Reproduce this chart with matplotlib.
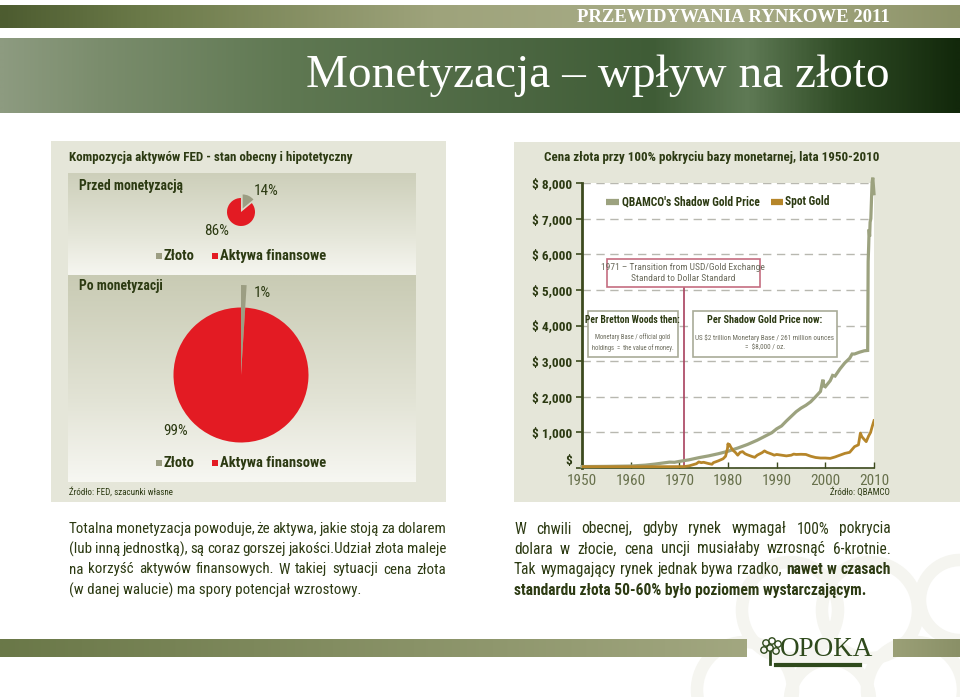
import numpy as np
import matplotlib
matplotlib.use('Agg')
import matplotlib.pyplot as plt
import matplotlib.font_manager as fm
from matplotlib.patches import Rectangle, Circle
from matplotlib.colors import LinearSegmentedColormap

# ---------------- data ----------------
pie_labels = ['Złoto', 'Aktywa finansowe']
pie_before = [14, 86]
pie_after = [1, 99]

years_shadow = [1950, 1955, 1960, 1963, 1965, 1968, 1969, 1970, 1972, 1974, 1976, 1978,
                1980, 1982, 1984, 1986, 1987, 1988, 1989, 1990, 1991, 1992, 1993, 1994,
                1995, 1996, 1997, 1998, 1999, 1999.5, 1999.7, 2000, 2001, 2001.5, 2002,
                2003, 2004, 2005, 2005.5, 2006, 2007, 2008, 2008.7, 2008.8, 2008.9,
                2009.0, 2009.1, 2009.2, 2009.35, 2009.6, 2009.75, 2010]
shadow_price = [40, 45, 55, 80, 110, 165, 160, 185, 230, 290, 340, 400,
                470, 560, 660, 780, 850, 920, 990, 1100, 1180, 1320, 1450, 1580,
                1680, 1760, 1860, 2000, 2150, 2480, 2300, 2280, 2450, 2600, 2580,
                2780, 2950, 3080, 3200, 3200, 3250, 3290, 3300, 5800, 6200,
                6700, 6500, 6900, 7000, 8000, 8150, 7700]

years_spot = [1950, 1968, 1971, 1972, 1973, 1973.5, 1974, 1974.5, 1975, 1976, 1976.7,
              1977, 1978, 1979, 1979.5, 1979.9, 1980.0, 1980.1, 1980.3, 1980.6, 1981,
              1981.5, 1982, 1982.5, 1983, 1983.5, 1984, 1985, 1985.5, 1986, 1987, 1987.5,
              1988, 1989, 1989.5, 1990, 1991, 1992, 1993, 1993.5, 1994, 1995, 1996, 1997,
              1998, 1999, 2000, 2001, 2002, 2003, 2004, 2005, 2006, 2006.8, 2007.2,
              2007.5, 2008.0, 2008.4, 2008.9, 2009.3, 2009.6, 2010]
spot_price = [35, 38, 40, 60, 100, 120, 170, 150, 160, 125, 105,
              150, 200, 260, 330, 550, 680, 620, 660, 580, 500,
              440, 360, 440, 460, 400, 370, 320, 300, 360, 430, 480,
              440, 390, 360, 380, 360, 340, 360, 390, 380, 385, 380, 330,
              295, 280, 280, 270, 310, 360, 410, 440, 600, 650, 980,
              880, 800, 740, 900, 1000, 1150, 1330]

y_ticks = [0, 1000, 2000, 3000, 4000, 5000, 6000, 7000, 8000]
y_tick_labels = ['$', '$ 1,000', '$ 2,000', '$ 3,000', '$ 4,000', '$ 5,000',
                 '$ 6,000', '$ 7,000', '$ 8,000']
x_ticks = [1950, 1960, 1970, 1980, 1990, 2000, 2010]
series_names = ["QBAMCO's Shadow Gold Price", 'Spot Gold']
transition_year = 1971

left_para = ["Totalna monetyzacja powoduje, że aktywa, jakie stoją za dolarem",
             "(lub inną jednostką), są coraz gorszej jakości.Udział złota maleje",
             "na korzyść aktywów finansowych. W takiej sytuacji cena złota",
             "(w danej walucie) ma spory potencjał wzrostowy."]
right_para = ["W chwili obecnej, gdyby rynek wymagał 100% pokrycia",
              "dolara w złocie, cena uncji musiałaby wzrosnąć 6-krotnie.",
              "Tak wymagający rynek jednak bywa rzadko, **nawet w czasach**",
              "**standardu złota 50-60% było poziomem wystarczającym.**"]

# ---------------- style ----------------
def pick(names, default='DejaVu Sans'):
    for n in names:
        try:
            fm.findfont(fm.FontProperties(family=n), fallback_to_default=False)
            return n
        except Exception:
            pass
    return default

NARROW = pick(['Liberation Sans Narrow', 'Roboto Condensed', 'DejaVu Sans Condensed',
               'Open Sans Condensed'], 'DejaVu Sans')
SERIF = pick(['Liberation Serif', 'DejaVu Serif'], 'DejaVu Serif')

DARK = '#2c3a12'
BEIGE = '#e5e6d9'
RED = '#e31b23'
GOLDGRAY = '#9c9e83'
SHADOW_C = '#9ca27f'
SPOT_C = '#b6862a'
GRAYTXT = '#6b6b5c'

W, H = 960, 697
fig = plt.figure(figsize=(9.6, 6.97), dpi=100)
fig.patch.set_facecolor('white')
bg = fig.add_axes([0, 0, 1, 1])
bg.axis('off')


def hgrad(x0, x1, y0, y1, stops, z=0):
    cmap = LinearSegmentedColormap.from_list('g', stops)
    arr = np.linspace(0, 1, 600).reshape(1, -1)
    bg.imshow(arr, cmap=cmap, extent=(x0, x1, y1, y0), origin='upper',
              aspect='auto', zorder=z, interpolation='bilinear')


def vgrad(x0, x1, y0, y1, stops, z=0):
    cmap = LinearSegmentedColormap.from_list('g', stops)
    arr = np.linspace(0, 1, 300).reshape(-1, 1)
    bg.imshow(arr, cmap=cmap, extent=(x0, x1, y1, y0), origin='upper',
              aspect='auto', zorder=z, interpolation='bilinear')


# decorative faint circles (watermark)
for (cx, cy, r) in [(790, 610, 48), (870, 610, 48), (745, 690, 48), (915, 690, 48),
                    (830, 700, 40), (960, 600, 40)]:
    bg.add_patch(Circle((cx, cy), r, fill=False, ec='#f5f5f0', lw=9, zorder=0.5))

# header bands
hgrad(0, W, 5, 28, [(0, '#4d5c30'), (0.15, '#6b7a49'), (0.45, '#9ea37b'),
                    (0.75, '#aaae89'), (1, '#8d9368')], z=1)
bg.text(890, 17.5, 'PRZEWIDYWANIA RYNKOWE 2011', family=SERIF, fontsize=13.5,
        color='white', ha='right', va='center', weight='bold', zorder=3)
hgrad(0, W, 38, 113, [(0, '#8d9b80'), (0.1, '#7b8d6d'), (0.3, '#5f7852'),
                      (0.52, '#4d6843'), (0.68, '#3f5c36'), (0.78, '#5f7a55'),
                      (0.88, '#2f4b25'), (1, '#12280b')], z=1)
bg.text(890, 76, 'Monetyzacja – wpływ na złoto', family=SERIF, fontsize=34,
        color='white', ha='right', va='center', zorder=3)

# bottom bands + logo
hgrad(0, 747, 639, 657, [(0, '#6a7848'), (1, '#a2a780')], z=1)
hgrad(893, W, 639, 657, [(0, '#9ba077'), (1, '#8a9067')], z=1)
bg.text(780, 650, 'OPOKA', family=SERIF, fontsize=19.5, color='#2f4a1c',
        ha='left', va='center', zorder=3)
bg.plot([776, 860], [665, 665], color='#2f4a1c', lw=3, zorder=3)
for (cx, cy) in [(766, 643), (772, 641), (778, 644), (764, 650), (770, 648), (776, 651)]:
    bg.add_patch(Circle((cx, cy), 3.2, fill=False, ec='#2f4a1c', lw=1, zorder=3))
bg.plot([770, 770], [652, 664], color='#2f4a1c', lw=2, zorder=3)

# panels
bg.add_patch(Rectangle((51, 141), 395, 361, fc=BEIGE, ec='none', zorder=1))
bg.add_patch(Rectangle((514, 142), W - 514, 360, fc=BEIGE, ec='none', zorder=1))
vgrad(68, 416, 173, 275, [(0, '#cdcfba'), (0.6, '#e4e5d8'), (1, '#f6f6f0')], z=2)
vgrad(68, 416, 275, 482, [(0, '#c9cbb4'), (0.6, '#e2e3d5'), (1, '#f7f7f2')], z=2)

# left panel texts
bg.text(69, 158, 'Kompozycja aktywów FED - stan obecny i hipotetyczny', family=NARROW,
        weight='bold', fontsize=9.4, color=DARK, va='center', zorder=3)
bg.text(79, 186, 'Przed monetyzacją', family=NARROW, weight='bold', fontsize=9.8,
        color=DARK, va='center', zorder=3)
bg.text(79, 286, 'Po monetyzacji', family=NARROW, weight='bold', fontsize=9.8,
        color=DARK, va='center', zorder=3)
bg.text(254, 191, f'{pie_before[0]}%', family=NARROW, fontsize=11, color=DARK,
        va='center', zorder=3)
bg.text(204, 231, f'{pie_before[1]}%', family=NARROW, fontsize=11, color=DARK,
        va='center', zorder=3)
bg.text(254, 293, f'{pie_after[0]}%', family=NARROW, fontsize=11, color=DARK,
        va='center', zorder=3)
bg.text(163, 431, f'{pie_after[1]}%', family=NARROW, fontsize=11, color=DARK,
        va='center', zorder=3)
for ly in (256, 463):
    bg.add_patch(Rectangle((156, ly - 3), 6, 6, fc=GOLDGRAY, ec='none', zorder=3))
    bg.text(164, ly, pie_labels[0], family=NARROW, weight='bold', fontsize=10.5,
            color=DARK, va='center', zorder=3)
    bg.add_patch(Rectangle((212, ly - 3), 6, 6, fc=RED, ec='none', zorder=3))
    bg.text(220, ly, pie_labels[1], family=NARROW, weight='bold', fontsize=10.5,
            color=DARK, va='center', zorder=3)
bg.text(69, 492, 'Źródło: FED, szacunki własne', family=NARROW, fontsize=6.5,
        color=DARK, va='center', zorder=3)

# right panel texts
bg.text(544, 158, 'Cena złota przy 100% pokryciu bazy monetarnej, lata 1950-2010',
        family=NARROW, weight='bold', fontsize=9.4, color=DARK, va='center', zorder=3)
bg.text(890, 492, 'Źródło: QBAMCO', family=NARROW, fontsize=6.5, color=DARK,
        ha='right', va='center', zorder=3)

bg.set_xlim(0, W)
bg.set_ylim(H, 0)


# ---------------- pies ----------------
def pie_axes(cx, cy, half):
    a = fig.add_axes([(cx - half) / W, 1 - (cy + half) / H, 2 * half / W, 2 * half / H])
    return a


pa = pie_axes(241, 212, 30)
wedges, _ = pa.pie(pie_before, colors=[GOLDGRAY, RED], startangle=90, counterclock=False,
                   radius=14 / 30, explode=[0.13, 0])
pa.set_xlim(-1, 1); pa.set_ylim(-1, 1); pa.axis('off')

pb = pie_axes(241, 375, 100)
wedges2, _ = pb.pie(pie_after, colors=[GOLDGRAY, RED], startangle=90, counterclock=False,
                    radius=0.675)
wedges2[0].set_radius(0.9)
pb.set_xlim(-1, 1); pb.set_ylim(-1, 1); pb.axis('off')

# ---------------- line chart ----------------
ax = fig.add_axes([582 / W, 1 - 468 / H, (874 - 582) / W, (468 - 183) / H])
ax.set_facecolor('white')
ax.plot(years_shadow, shadow_price, color=SHADOW_C, lw=2.3, clip_on=False, zorder=4,
        solid_joinstyle='miter')
ax.plot(years_spot, spot_price, color=SPOT_C, lw=2, zorder=5)
ax.set_xlim(1950, 2010)
ax.set_ylim(0, 8000)
ax.set_yticks(y_ticks)
ax.set_yticklabels(y_tick_labels)
ax.set_xticks(x_ticks)
ax.set_xticklabels([str(x) for x in x_ticks])
ax.grid(axis='y', ls=(0, (6, 4)), color='#b8b8b0', lw=1, zorder=1)
ax.set_axisbelow(True)
for s in ('top', 'right'):
    ax.spines[s].set_visible(False)
ax.spines['left'].set_color('#3c4a1e'); ax.spines['left'].set_linewidth(2)
ax.spines['bottom'].set_color('#3c4a1e'); ax.spines['bottom'].set_linewidth(1.2)
ax.tick_params(axis='y', direction='out', length=4, width=1.2, color='#3c4a1e', pad=3,
               labelsize=9.6, labelcolor=DARK)
ax.tick_params(axis='x', direction='in', length=4, width=1, color='#3c4a1e', pad=4,
               labelsize=11, labelcolor='#68714c')
for t in ax.get_yticklabels():
    t.set_family(NARROW); t.set_weight('bold')
ax.get_yticklabels()[0].set_va('bottom')
for t in ax.get_xticklabels():
    t.set_family(NARROW)

# transition line + boxes
yb = 5080
ax.plot([transition_year, transition_year], [0, yb], color='#a8415e', lw=1.2, zorder=3)
ax.add_patch(Rectangle((1955.1, 5080), 31.4, 790, fc='white', ec='#c56d80', lw=1.2,
                       zorder=6))
ax.text(1970.8, 5475, '1971 – Transition from USD/Gold Exchange\nStandard to Dollar Standard',
        ha='center', va='center', family=NARROW, fontsize=6.8, color=GRAYTXT, zorder=7,
        linespacing=1.25)
ax.add_patch(Rectangle((1951.2, 3120), 18.5, 1290, fc='white', ec='#a9ab98', lw=1.2,
                       zorder=6))
ax.text(1960.45, 4150, 'Per Bretton Woods then:', ha='center', va='center', family=NARROW,
        weight='bold', fontsize=6.9, color=DARK, zorder=7)
ax.text(1960.45, 3520, 'Monetary Base / official gold\nholdings  =  the value of money.',
        ha='center', va='center', family=NARROW, fontsize=4.8, color=GRAYTXT, zorder=7,
        linespacing=1.5)
ax.add_patch(Rectangle((1972.9, 3120), 29.4, 1290, fc='white', ec='#a9ab98', lw=1.2,
                       zorder=6))
ax.text(1987.6, 4150, 'Per Shadow Gold Price now:', ha='center', va='center',
        family=NARROW, weight='bold', fontsize=7.4, color=DARK, zorder=7)
ax.text(1987.6, 3520, 'US $2 trillion Monetary Base / 261 million ounces\n=  $8,000 / oz.',
        ha='center', va='center', family=NARROW, fontsize=5.1, color=GRAYTXT, zorder=7,
        linespacing=1.5)

# legend (inside plot)
ax.plot([1955, 1957.7], [7480, 7480], color=SHADOW_C, lw=4.5, solid_capstyle='butt',
        zorder=7)
ax.text(1958.2, 7480, series_names[0], va='center', family=NARROW, weight='bold',
        fontsize=8.3, color=DARK, zorder=7)
ax.plot([1988.8, 1991.3], [7480, 7480], color=SPOT_C, lw=4.5, solid_capstyle='butt',
        zorder=7)
ax.text(1991.8, 7480, series_names[1], va='center', family=NARROW, weight='bold',
        fontsize=8.3, color=DARK, zorder=7)

# ---------------- justified paragraphs ----------------
renderer = fig.canvas.get_renderer()


def justify(lines, x0, x1, ys, size):
    for li, (line, y) in enumerate(zip(lines, ys)):
        last = li == len(lines) - 1
        if last:
            bold = line.startswith('**')
            bg.text(x0, y, line.replace('**', ''), family=NARROW, fontsize=size,
                    color=DARK, weight='bold' if bold else 'normal', va='center',
                    zorder=3)
            continue
        tokens = []
        bold = False
        for part_i, part in enumerate(line.split('**')):
            if part_i > 0:
                bold = not bold
            for w in part.split():
                tokens.append((w, bold))
        fs = size
        while True:
            objs = [bg.text(0, y, w, family=NARROW, fontsize=fs, color=DARK,
                            weight='bold' if b else 'normal', va='center', zorder=3)
                    for (w, b) in tokens]
            widths = [o.get_window_extent(renderer).width for o in objs]
            gap = (x1 - x0 - sum(widths)) / max(len(objs) - 1, 1)
            if gap >= 2.2 or fs < 7:
                break
            for o in objs:
                o.remove()
            fs -= 0.25
        x = x0
        for o, wdt in zip(objs, widths):
            o.set_x(x)
            x += wdt + gap


justify(left_para, 69, 446, [529, 549, 569.5, 590], 10.8)
justify(right_para, 514, 891, [529, 549, 569.5, 590], 11.2)

bg.set_xlim(0, W)
bg.set_ylim(H, 0)
fig.savefig('out.png', dpi=100, facecolor='white')
